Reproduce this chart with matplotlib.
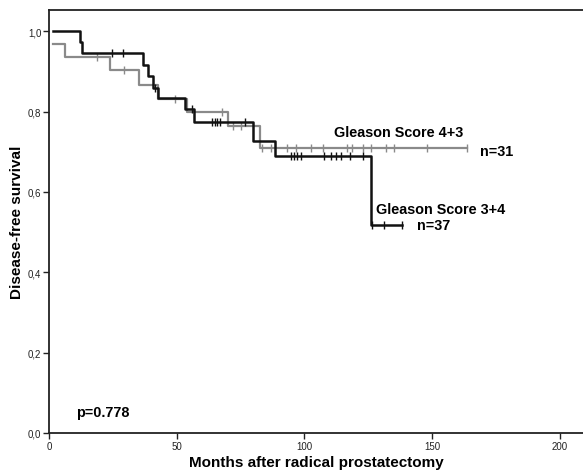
import numpy as np
import matplotlib
matplotlib.use("Agg")
import matplotlib.pyplot as plt

plt.rcParams['font.family'] = ['Liberation Sans', 'DejaVu Sans']

# ---- data ----
t_start = 1.7

# Gleason Score 3+4 (n=37), black
s0_b = 1.0
event_times_b = [12.0, 13.0, 36.7, 38.9, 40.9, 42.5, 53.3, 56.6, 80.0, 88.6, 126.2]
surv_b = [0.973, 0.946, 0.916, 0.889, 0.860, 0.833, 0.806, 0.773, 0.728, 0.690, 0.517]
censor_b = [24.8, 28.9, 41.6, 56.0, 63.8, 64.8, 65.8, 67.1, 76.9, 94.8, 95.8, 97.1,
            98.8, 107.8, 110.5, 112.5, 114.1, 118.0, 122.9, 126.3, 131.1, 138.3]

# Gleason Score 4+3 (n=31), grey
s0_g = 0.968
event_times_g = [6.3, 23.7, 35.4, 42.5, 54.0, 70.0, 82.7]
surv_g = [0.935, 0.903, 0.866, 0.831, 0.798, 0.763, 0.709]
censor_g = [18.7, 29.2, 49.4, 67.7, 72.2, 75.0, 83.5, 86.9, 93.2, 96.5, 102.4, 107.3,
            116.7, 118.7, 123.1, 126.2, 131.8, 135.0, 148.1, 163.8]

x_ticks = [0, 50, 100, 150, 200]
y_ticks = [0.0, 0.2, 0.4, 0.6, 0.8, 1.0]
y_ticklabels = ['0,0', '0,2', '0,4', '0,6', '0,8', '1,0']

BLACK = '#111111'
GREY = '#8a8a8a'

fig = plt.figure(figsize=(5.83, 4.77), dpi=100)
ax = fig.add_axes([49/583, 1-434/477, 1.0-49/583, (434-11)/477])


def km_curve(s0, times, surv, censors):
    t_end = max(censors[-1], times[-1])
    xs = [t_start] + list(times) + [t_end]
    ys = [s0] + list(surv) + [surv[-1]]
    tt = np.array(times)
    cs = np.array(censors)
    idx = np.searchsorted(tt, cs, side='right')
    levels = np.concatenate([[s0], surv])
    cy = levels[idx]
    return xs, ys, cs, cy


xs, ys, cx, cy = km_curve(s0_g, event_times_g, surv_g, censor_g)
ax.step(xs, ys, where='post', color=GREY, lw=1.6, zorder=2)
ax.plot(cx, cy, ls='none', marker='|', ms=5.5, mew=1.0, color=GREY, zorder=2)

xs, ys, cx, cy = km_curve(s0_b, event_times_b, surv_b, censor_b)
ax.step(xs, ys, where='post', color=BLACK, lw=1.8, zorder=3)
ax.plot(cx, cy, ls='none', marker='|', ms=5.5, mew=1.0, color=BLACK, zorder=3)

ax.set_xlim(0, (582-49)/2.55)
ax.set_ylim(0, 1.053)
ax.set_xticks(x_ticks)
ax.set_xticklabels([str(v) for v in x_ticks])
ax.set_yticks(y_ticks)
ax.set_yticklabels(y_ticklabels)
ax.tick_params(axis='both', direction='out', length=4, width=1.0, labelsize=7, pad=1.5, colors='#222222')
for side in ['left', 'bottom', 'top']:
    ax.spines[side].set_linewidth(1.3)
    ax.spines[side].set_color('#222222')
ax.spines['right'].set_visible(False)

ax.set_xlabel('Months after radical prostatectomy', fontsize=11, fontweight='bold', labelpad=3)
ax.set_ylabel('Disease-free survival', fontsize=11, fontweight='bold', labelpad=3)

ax.text(111.4, 0.749, 'Gleason Score 4+3', fontsize=10.4, fontweight='bold', va='center', ha='left')
ax.text(168.6, 0.702, 'n=31', fontsize=10.4, fontweight='bold', va='center', ha='left')
ax.text(127.8, 0.558, 'Gleason Score 3+4', fontsize=10.4, fontweight='bold', va='center', ha='left')
ax.text(144.2, 0.517, 'n=37', fontsize=10.4, fontweight='bold', va='center', ha='left')
ax.text(10.6, 0.052, 'p=0.778', fontsize=10.4, fontweight='bold', va='center', ha='left')

fig.savefig('out.png', dpi=100)
